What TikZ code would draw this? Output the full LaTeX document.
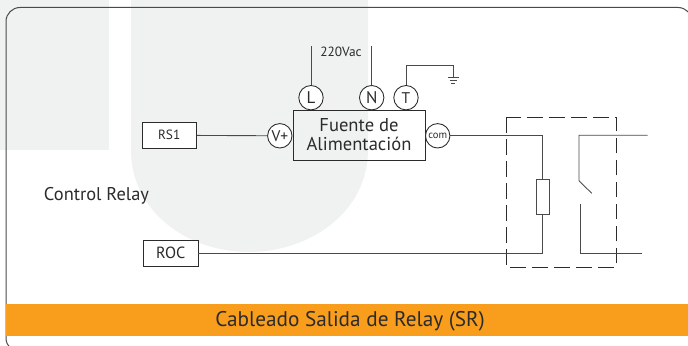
\documentclass[tikz,border=0pt]{standalone}
\usepackage{fontspec}
\setmainfont{PT Sans}
\usetikzlibrary{calc}
\usetikzlibrary{positioning}
\definecolor{bandorange}{HTML}{F99D1C}
\definecolor{backgrey}{HTML}{F0F1F1}
\definecolor{inktext}{HTML}{2B2B2B}
\definecolor{wiregrey}{HTML}{4A4A4A}
\tikzset{
  wire/.style={draw=wiregrey, line width=0.22mm},
  terminal/.style={circle, draw=inktext, fill=white, line width=0.22mm, minimum size=6.1mm, inner sep=0pt, text=inktext, font=\fontsize{12}{12}\selectfont},
  signalbox/.style={rectangle, draw=inktext, fill=white, line width=0.22mm, minimum width=13.6mm, minimum height=6.6mm, inner sep=0pt, text=inktext},
  caption/.style={inner sep=0pt, text=inktext}
}
\begin{document}
\begin{tikzpicture}[x=0.25mm, y=-0.25mm]
      \useasboundingbox (0, 0) rectangle (688, 346);
      \clip (0, 0) rectangle (688, 346);

      % background shapes
      \fill[backgrey] (0, 0) rectangle (109, 150);
      \fill[backgrey] (131, 0) -- (131, 150) .. controls (131, 212) and (188, 252) .. (249, 252)
        .. controls (310, 252) and (368, 212) .. (368, 150) -- (368, 0) -- cycle;

      \draw[draw=wiregrey, line width=0.25mm, rounded corners=3.5mm] (6, 7.5) rectangle (692, 352);
      \fill[bandorange] (6, 304) rectangle (688, 336);
      \node[caption, font=\fontsize{15.1}{16}\selectfont] (title) at (350, 321.5) {Cableado Salida de Relay (SR)};

      \node[caption, font=\fontsize{13.1}{14}\selectfont] (controlrelay) at (96.5, 196) {Control Relay};

      % source
      \node[rectangle, draw=inktext, line width=0.22mm, minimum width=33mm, minimum height=12.5mm, align=center, text=inktext, inner sep=0pt, font=\fontsize{13.2}{13.5}\selectfont] (fuente) at (359, 135) {\raisebox{-1pt}{Fuente de} \\ \raisebox{-1pt}{Alimentación}};
      \node[terminal] (L) at (311, 97.7) {L};
      \node[terminal] (N) at (371.7, 97.7) {N};
      \node[terminal, font=\fontsize{11}{11}\selectfont] (T) at (406, 97.7) {T};
      \node[terminal, font=\fontsize{11}{11}\selectfont] (vplus) at (279.8, 135.8) {V+};
      \node[terminal, font=\fontsize{7.5}{8}\selectfont] (com) at (437.7, 135.8) {com};
      \node[caption, font=\fontsize{9.5}{10}\selectfont] (vac) at (341, 51.7) {220Vac};

      \coordinate (Ltop) at (311, 45.7);
      \coordinate (Ntop) at (371.7, 45.7);
      \draw[wire] (L) -- (Ltop);
      \draw[wire] (N) -- (Ntop);

      % earth
      \coordinate (earth) at (453, 77.7);
      \draw[wire] (T) |- (453, 65.7) -- (earth);
      \draw[wire] (447.7, 77.7) -- (458.7, 77.7);
      \draw[wire] (449.5, 80.5) -- (456.5, 80.5);
      \draw[wire] (451.3, 83.2) -- (454.7, 83.2);

      % control boxes
      \node[signalbox, font=\fontsize{9.5}{10}\selectfont] (RS1) at (169.2, 135.3) {\raisebox{-1pt}{RS1}};
      \node[signalbox, font=\fontsize{11.5}{12}\selectfont] (ROC) at (170.8, 253.3) {ROC\hspace{3pt}};
      \draw[wire] (RS1) -- (vplus);

      % relay
      \draw[draw=inktext, line width=0.22mm, dash pattern=on 3.9mm off 1.6mm] (506, 117) rectangle (616.3, 267);
      \node[rectangle, draw=wiregrey, line width=0.22mm, minimum width=3.2mm, minimum height=8.6mm, inner sep=0pt] (coil) at (542.8, 196.8) {};
      \draw[wire] (com) -| (coil.north);
      \draw[wire] (coil.south) |- (ROC.east);

      \coordinate (contacttop) at (647.7, 135.3);
      \coordinate (hinge) at (579, 180.7);
      \coordinate (blade) at (591.7, 193.3);
      \coordinate (contactlow) at (580, 204.3);
      \coordinate (contactout) at (641.7, 253.7);
      \draw[wire] (contacttop) -| (hinge) -- (blade);
      \draw[wire] (contactlow) |- (contactout);
    \end{tikzpicture}
\end{document}
